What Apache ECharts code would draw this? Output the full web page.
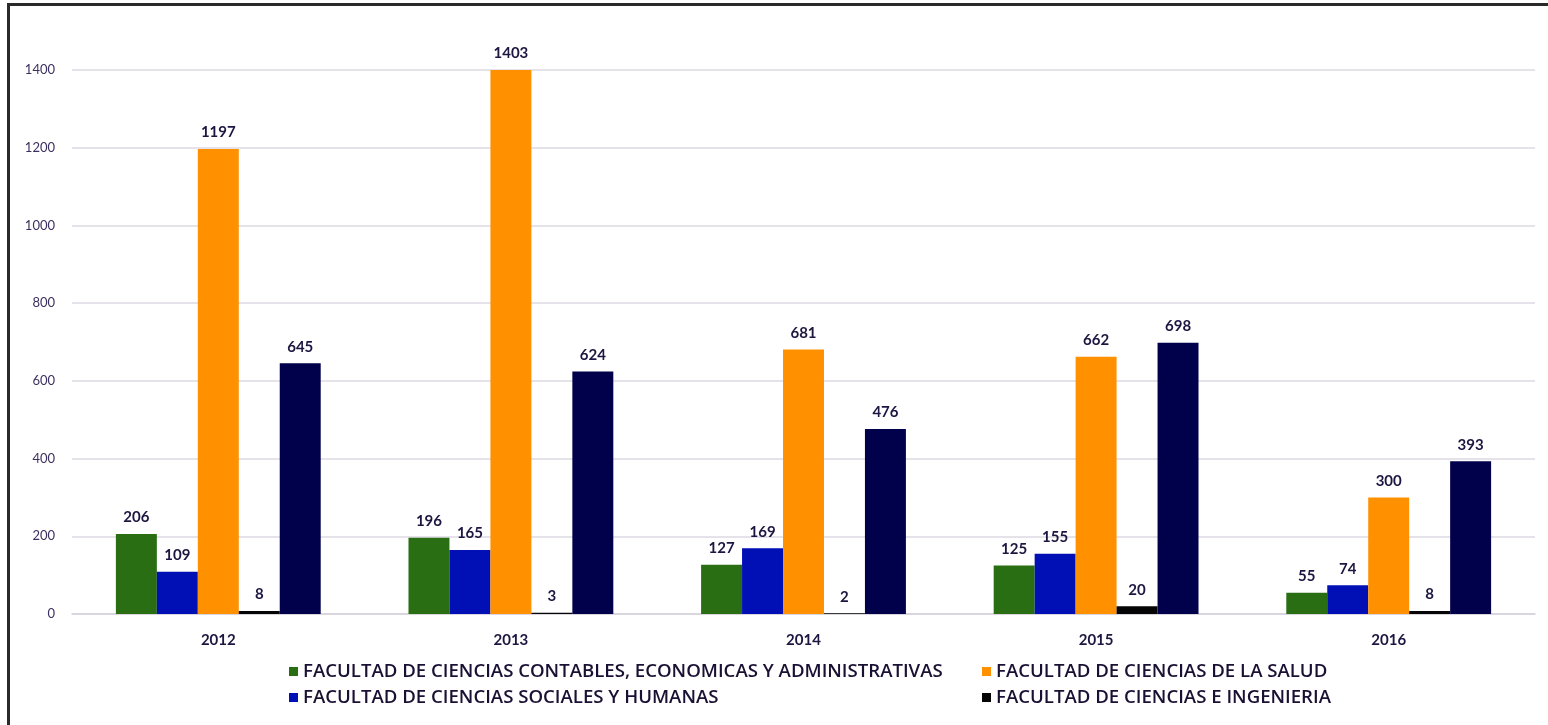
<!DOCTYPE html>
<html>
<head>
<meta charset="utf-8">
<script src="https://cdn.jsdelivr.net/npm/echarts@6/dist/echarts.min.js"></script>
<style>
html,body{margin:0;padding:0;background:#fff;overflow:hidden;}
#frame{position:absolute;left:7px;top:3px;width:1600px;height:800px;border-left:3px solid #2a2a2a;border-top:3px solid #2a2a2a;}
#chart{position:absolute;left:0;top:0;width:1548px;height:725px;}
</style>
</head>
<body>
<div id="frame"></div>
<div id="chart"></div>
<script>
const years = ['2012', '2013', '2014', '2015', '2016'];
const seriesNames = [
  'FACULTAD DE CIENCIAS CONTABLES, ECONOMICAS Y ADMINISTRATIVAS',
  'FACULTAD DE CIENCIAS SOCIALES Y HUMANAS',
  'FACULTAD DE CIENCIAS DE LA SALUD',
  'FACULTAD DE CIENCIAS E INGENIERIA',
  'OTRA FACULTAD'
];
const contables = [206, 196, 127, 125, 55];
const sociales = [109, 165, 169, 155, 74];
const salud = [1197, 1403, 681, 662, 300];
const ingenieria = [8, 3, 2, 20, 8];
const otra = [645, 624, 476, 698, 393];
const yTicks = { min: 0, max: 1400, interval: 200 };

const colors = ['#2a6e14', '#0010b4', '#ff9000', '#050505', '#00004b'];
const values = [contables, sociales, salud, ingenieria, otra];

const chart = echarts.init(document.getElementById('chart'));
const labelStyle = {
  show: true, position: 'top', distance: 9,
  color: '#1c1640', fontWeight: 'bold', fontSize: 15,
  fontFamily: 'Lato, sans-serif'
};
const legendText = { color: '#1a1033', fontSize: 18.6, fontWeight: 600, fontFamily: 'Open Sans, sans-serif' };

chart.setOption({
  animation: false,
  grid: { left: 72, right: 13, top: 70, bottom: 111 },
  legend: [
    {
      orient: 'vertical', left: 284, top: 657, itemGap: 7,
      itemWidth: 9, itemHeight: 9, icon: 'rect',
      data: [seriesNames[0], seriesNames[1]], textStyle: legendText
    },
    {
      orient: 'vertical', left: 977, top: 657, itemGap: 7,
      itemWidth: 9, itemHeight: 9, icon: 'rect',
      data: [seriesNames[2], seriesNames[3]], textStyle: legendText
    }
  ],
  xAxis: {
    type: 'category', data: years,
    axisLine: { lineStyle: { color: '#d6d2dc', width: 1.5 } },
    axisTick: { show: false },
    axisLabel: { color: '#1c1640', fontWeight: 'bold', fontSize: 15, margin: 19, fontFamily: 'Lato, sans-serif' }
  },
  yAxis: {
    type: 'value', min: yTicks.min, max: yTicks.max, interval: yTicks.interval,
    axisLine: { show: false }, axisTick: { show: false },
    axisLabel: { color: '#3d2f5e', fontSize: 13, margin: 17, fontFamily: 'Lato, sans-serif', formatter: v => String(v) },
    splitLine: { lineStyle: { color: '#dcd8e2', width: 1.5 } }
  },
  series: values.map((v, i) => ({
    name: seriesNames[i], type: 'bar', data: v,
    barGap: '0%', barCategoryGap: '30%',
    itemStyle: { color: colors[i] },
    label: labelStyle
  }))
});
</script>
</body>
</html>
